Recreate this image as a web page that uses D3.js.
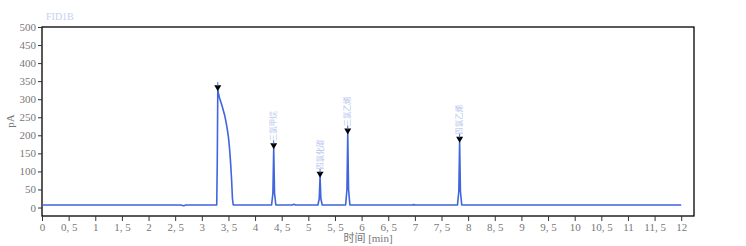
<!DOCTYPE html>
<html>
<head>
<meta charset="utf-8">
<script src="https://cdn.jsdelivr.net/npm/d3@7"></script>
<style>
  body { margin: 0; background: #fff; }
  text { font-family: "Liberation Serif", "Noto Sans CJK SC", serif; }
</style>
</head>
<body>
<svg width="746" height="246"></svg>
<script>
// signal (min, pA)
const time = [0, 2.6, 2.66, 2.7, 3.28, 3.29, 3.3, 3.33, 3.38, 3.43, 3.47, 3.5, 3.52, 3.54, 3.56, 3.575, 3.59,
  4.31, 4.335, 4.35, 4.365, 4.39, 4.7, 4.73, 4.76,
  5.18, 5.205, 5.22, 5.235, 5.26, 5.7, 5.725, 5.74, 5.755, 5.78,
  6.95, 6.98, 7.01, 7.8, 7.825, 7.84, 7.855, 7.88, 12]
const signal = [7, 7, 5, 7, 7, 120, 325, 305, 282, 255, 225, 195, 165, 125, 75, 25, 7,
  7, 40, 164, 40, 7, 7, 9, 7,
  7, 25, 85, 25, 7, 7, 50, 205, 50, 7,
  7, 8, 7, 7, 45, 182, 45, 7, 7]
const peakTimes = [3.3, 4.35, 5.22, 5.74, 7.84]
const peakValues = [325, 164, 85, 205, 182]
const peakNames = ["", "三氯甲烷", "四氯化碳", "三氯乙烯", "四氯乙烯"]
const xTicks = d3.range(0, 12.01, 0.5)
const yTicks = d3.range(0, 501, 50)

const svg = d3.select("svg"),
    margin = {top: 27, right: 52, bottom: 30, left: 42},
    width = svg.attr("width") - margin.left - margin.right,
    height = svg.attr("height") - margin.top - margin.bottom

const g = svg.append("g").attr("transform", `translate(${margin.left},${margin.top})`)

const x = d3.scaleLinear().domain([0, 12.24]).range([0, width])
const y = d3.scaleLinear().domain([-23.5, 500]).range([height, 0])

const fmt = d => String(d).replace(".", ", ")

// frame
g.append("rect")
  .attr("width", width).attr("height", height)
  .attr("fill", "none").attr("stroke", "#000").attr("stroke-width", 1.3)

const yAxis = g.append("g")
  .call(d3.axisLeft(y).tickValues(yTicks).tickSize(4).tickPadding(2).tickFormat(d3.format("d")))
yAxis.select(".domain").remove()
yAxis.selectAll("line").attr("stroke", "#333")
yAxis.selectAll("text").attr("fill", "#777").attr("font-size", 11)

const xAxis = g.append("g")
  .attr("transform", `translate(0,${height})`)
  .call(d3.axisBottom(x).tickValues(xTicks).tickSize(5).tickPadding(2).tickFormat(fmt))
xAxis.select(".domain").remove()
xAxis.selectAll("line").attr("stroke", "#333")
xAxis.selectAll("text").attr("fill", "#777").attr("font-size", 11)

// signal line
const line = d3.line().x((d, i) => x(time[i])).y(d => y(d))
g.append("path")
  .attr("d", line(signal))
  .attr("fill", "none")
  .attr("stroke", "#3f66dc")
  .attr("stroke-width", 1.6)
  .attr("stroke-linejoin", "round")

// peak markers
peakTimes.forEach((t, i) => {
  const px = x(t), py = y(peakValues[i])
  g.append("path")
    .attr("d", `M${px - 3.5},${py - 5}L${px + 3.5},${py - 5}L${px},${py + 1}Z`)
    .attr("fill", "#000")
  g.append("line")
    .attr("x1", px).attr("x2", px).attr("y1", py - 8).attr("y2", py - 4)
    .attr("stroke", "#3f66dc").attr("stroke-width", 1)
  if (peakNames[i]) {
    g.append("text")
      .attr("transform", `translate(${px + 2.5},${py - 7}) rotate(-90)`)
      .attr("font-size", 7.5)
      .attr("fill", "#b8c6ee")
      .attr("font-family", "Noto Sans CJK SC")
      .text(peakNames[i])
  }
})

svg.append("text")
  .attr("x", 46).attr("y", 20)
  .attr("font-size", 10)
  .attr("fill", "#c5d0f2")
  .text("FID1B")

svg.append("text")
  .attr("transform", `translate(14,121) rotate(-90)`)
  .attr("text-anchor", "middle")
  .attr("font-size", 11)
  .attr("fill", "#777")
  .text("pA")

svg.append("text")
  .attr("x", 368).attr("y", 242)
  .attr("text-anchor", "middle")
  .attr("font-size", 11)
  .attr("fill", "#777")
  .text("时间 [min]")
</script>
</body>
</html>
